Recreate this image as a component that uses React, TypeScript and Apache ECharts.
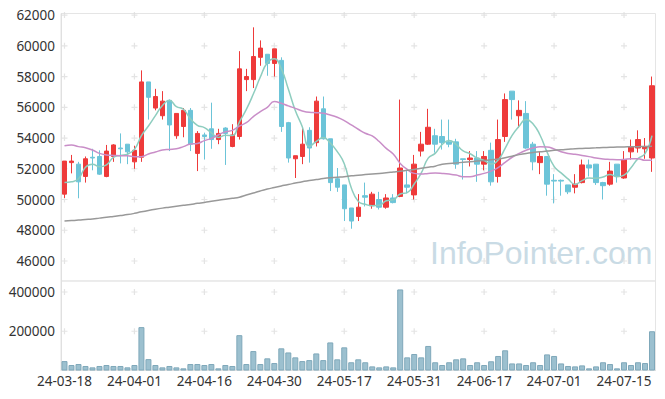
import React, { useEffect, useRef } from "react";
import * as echarts from "echarts";

const dates = [
  "24-03-18","24-03-19","24-03-20","24-03-21","24-03-22","24-03-25","24-03-26","24-03-27","24-03-28","24-03-29",
  "24-04-01","24-04-02","24-04-03","24-04-04","24-04-05","24-04-08","24-04-09","24-04-11","24-04-12","24-04-15",
  "24-04-16","24-04-17","24-04-18","24-04-19","24-04-22","24-04-23","24-04-24","24-04-25","24-04-26","24-04-29",
  "24-04-30","24-05-02","24-05-03","24-05-07","24-05-08","24-05-09","24-05-10","24-05-13","24-05-14","24-05-16",
  "24-05-17","24-05-20","24-05-21","24-05-22","24-05-23","24-05-24","24-05-27","24-05-28","24-05-29","24-05-30",
  "24-05-31","24-06-03","24-06-04","24-06-05","24-06-07","24-06-10","24-06-11","24-06-12","24-06-13","24-06-14",
  "24-06-17","24-06-18","24-06-19","24-06-20","24-06-21","24-06-24","24-06-25","24-06-26","24-06-27","24-06-28",
  "24-07-01","24-07-02","24-07-03","24-07-04","24-07-05","24-07-08","24-07-09","24-07-10","24-07-11","24-07-12",
  "24-07-15","24-07-16","24-07-17","24-07-18","24-07-19",
];

const opens = [
  50350,52400,52300,51500,52750,52800,51500,52800,53350,53600,
  52450,52750,57650,55950,55450,56450,54150,54750,55800,53000,
  54200,54600,53900,54650,53450,54100,57800,57800,59250,59450,
  58850,59050,55000,52650,52800,54500,53700,55900,53950,51350,
  50950,49450,48900,50250,49600,50000,49500,50100,50200,50950,
  50300,53150,53600,54150,54100,53750,53750,52650,52600,52700,
  52300,53200,51500,54100,57050,55450,55600,53600,52400,52800,
  51250,51250,50950,50800,51100,52250,52300,51100,51000,52300,
  51400,53100,53350,53300,52700,
];
const closes = [
  52500,52500,51150,52650,52700,51650,53150,53550,53300,53100,
  53200,57650,56650,56700,56400,54850,55600,55800,53600,54300,
  54100,53900,54300,54300,54200,58500,58000,59300,59850,58850,
  59800,54750,52700,52850,53600,53350,56400,53950,51100,50800,
  49400,48600,49500,50150,50350,49500,50100,49800,52050,50800,
  52300,53600,54700,53600,53700,53600,52300,52600,52700,52300,
  52800,51150,53900,56500,56500,55800,53350,52450,52800,51000,
  51200,51200,50500,51000,52250,52050,51100,50900,51850,51500,
  52600,53450,53900,53450,57400,
];
const lows = [
  50100,51700,50080,51100,51900,51600,51450,52450,52350,52300,
  52000,52450,55200,55800,55200,53150,53950,54050,53150,51850,
  52600,53300,53600,52250,53400,53900,57050,57250,58700,58050,
  58000,54400,52400,51400,52300,52400,53450,53900,50550,50500,
  48600,48100,48600,49550,49400,49350,49400,49750,50150,50400,
  50000,52800,53550,53050,53250,53400,52000,51300,52150,51150,
  51900,50900,51100,53750,55200,54650,53300,51900,51650,50250,
  49750,50250,50350,50400,51050,51500,50950,50000,50900,51100,
  51350,52600,53050,52650,51800,
];
const highs = [
  52500,52900,52450,52800,53300,53200,53550,53600,54300,53600,
  53500,58400,57650,57200,57050,56500,55600,55950,55950,54450,
  54350,56300,54600,54700,54900,59650,58500,61200,60350,59450,
  59800,59250,55050,52850,54700,54700,56700,56700,53950,52050,
  50950,49450,50350,51100,50500,50500,50350,50350,56500,51850,
  52900,54400,55900,54600,55200,55200,53950,52650,53150,53150,
  53150,53700,55200,56900,57050,56450,56400,53750,53150,52800,
  51650,51300,50950,51650,52600,52600,52300,51150,52450,52300,
  53150,53900,54500,54000,58000,
];
const volumes = [
  48000,28000,33000,23000,16000,23000,28000,23000,23000,16000,
  28000,221000,58000,28000,16000,23000,16000,11000,33000,33000,
  28000,33000,11000,28000,23000,180000,33000,99000,33000,62000,
  38000,113000,92000,67000,48000,53000,87000,53000,143000,57000,
  118000,42000,57000,42000,21000,16000,21000,16000,413000,67000,
  84000,67000,125000,42000,28000,42000,57000,62000,28000,42000,
  28000,47000,74000,103000,36000,36000,28000,42000,28000,82000,
  74000,36000,23000,21000,26000,11000,21000,42000,33000,11000,
  42000,28000,42000,38000,200000,
];
const ma5 = [
  51100,51150,51350,52100,52300,52130,52260,52740,52870,52950,
  53260,54160,54780,55460,56120,56450,56040,55870,55250,54830,
  54680,54340,54040,54180,54160,55040,55860,56860,57970,58900,
  59160,58510,57190,55790,54740,53450,53780,54030,53680,53120,
  52330,50770,49880,49690,49600,49620,49920,49980,50360,50450,
  51010,51710,52690,53000,53580,53840,53580,53160,52980,52700,
  52540,52310,52570,53330,54170,54770,55210,54920,54180,53080,
  52160,51730,51340,50980,51230,51400,51380,51460,51630,51480,
  51590,52060,52660,52980,54160,
];
const ma20 = [
  53500,53545,53440,53370,53220,53000,52900,52870,52850,52850,
  52790,52790,52960,53090,53220,53260,53300,53440,53610,53650,
  53830,53980,54200,54400,54500,54780,54995,55390,55710,56000,
  56370,56260,56090,55930,55760,55670,55650,55610,55500,55350,
  55130,54850,54570,54310,54140,53770,53330,52960,52350,51960,
  51700,51660,51700,51720,51700,51660,51590,51480,51480,51590,
  51700,51850,52080,52420,52750,53000,53200,53350,53430,53420,
  53290,53110,53000,52940,52870,52790,52700,52640,52610,52590,
  52610,52660,52660,52550,52550,
];
const ma120 = [
  48600,48630,48660,48700,48740,48790,48840,48900,48960,49020,
  49100,49200,49290,49370,49440,49500,49560,49620,49680,49750,
  49810,49880,49950,50020,50080,50150,50290,50420,50560,50680,
  50780,50880,50980,51070,51160,51240,51300,51360,51410,51450,
  51480,51540,51580,51620,51660,51700,51740,51790,51840,51900,
  51960,52030,52100,52170,52300,52340,52380,52420,52460,52500,
  52540,52580,52640,52720,52820,52920,53000,53060,53110,53150,
  53200,53240,53270,53300,53320,53340,53360,53380,53395,53410,
  53420,53430,53440,53450,53460,
];

const priceTicks = [46000, 48000, 50000, 52000, 54000, 56000, 58000, 60000, 62000];
const volumeTicks = [200000, 400000];

const UP = "#ee3a3a";
const DOWN = "#6cc4d8";
const PLUS = "path://M2,0H3V2H5V3H3V5H2V3H0V2H2Z";

export default function App() {
  const ref = useRef<HTMLDivElement>(null);
  useEffect(() => {
    const chart = echarts.init(ref.current!, null, { renderer: "svg" });
    const candles = dates.map((_, i) => [opens[i], closes[i], lows[i], highs[i]]);
    const markCats = dates.filter((_, i) => i % 10 === 0);
    const upperMarks: any[] = [];
    markCats.forEach((c) => priceTicks.forEach((v) => upperMarks.push([c, v])));
    const lowerMarks: any[] = [];
    markCats.forEach((c) => volumeTicks.forEach((v) => lowerMarks.push([c, v])));
    const plain = (v: number) => String(v);

    chart.setOption({
      animation: false,
      backgroundColor: "#ffffff",
      textStyle: { fontFamily: "'Noto Sans', sans-serif" },
      grid: [
        { left: 61, right: 9.5, top: 13.5, height: 267.5, show: true, borderColor: "#e5e5e5", borderWidth: 1 },
        { left: 61, right: 9.5, top: 281, height: 89.5, show: true, borderColor: "#e5e5e5", borderWidth: 1 },
      ],
      xAxis: [
        {
          type: "category", gridIndex: 0, data: dates, boundaryGap: true,
          axisLine: { show: false }, axisTick: { show: false }, axisLabel: { show: false }, splitLine: { show: false },
        },
        {
          type: "category", gridIndex: 1, data: dates, boundaryGap: true,
          axisLine: { show: true, lineStyle: { color: "#e0e0e0" } }, axisTick: { show: false },
          axisLabel: { interval: 9, color: "#333", fontSize: 13.5, margin: 3 }, splitLine: { show: false },
        },
      ],
      yAxis: [
        {
          type: "value", gridIndex: 0, min: 44700, max: 62100, splitNumber: 8, scale: true,
          axisLine: { show: true, lineStyle: { color: "#e0e0e0" } }, axisTick: { show: false }, splitLine: { show: false },
          axisLabel: { color: "#333", fontSize: 13.5, margin: 6, showMinLabel: false, showMaxLabel: false, formatter: plain },
        },
        {
          type: "value", gridIndex: 1, min: 0, max: 456000, interval: 200000,
          axisLine: { show: true, lineStyle: { color: "#e0e0e0" } }, axisTick: { show: false }, splitLine: { show: false },
          axisLabel: { color: "#333", fontSize: 13.5, margin: 6, showMinLabel: false, showMaxLabel: false, formatter: plain },
        },
      ],
      graphic: [
        {
          type: "text", left: 430, top: 237, z: -10, silent: true,
          style: { text: "InfoPointer.com", fontSize: 32, fill: "#c9dbe5", fontFamily: "'Liberation Sans', Arial, sans-serif" },
        },
      ],
      series: [
        {
          type: "scatter", xAxisIndex: 0, yAxisIndex: 0, data: upperMarks, symbol: PLUS, symbolSize: 6,
          itemStyle: { color: "#dddddd" }, silent: true, z: 0,
        },
        {
          type: "scatter", xAxisIndex: 1, yAxisIndex: 1, data: lowerMarks, symbol: PLUS, symbolSize: 6,
          itemStyle: { color: "#dddddd" }, silent: true, z: 0,
        },
        {
          type: "candlestick", xAxisIndex: 0, yAxisIndex: 0, data: candles, barWidth: 5,
          itemStyle: { color: UP, color0: DOWN, borderColor: UP, borderColor0: DOWN, borderWidth: 1 },
        },
        {
          type: "line", xAxisIndex: 0, yAxisIndex: 0, data: ma5, symbol: "none", smooth: true,
          lineStyle: { color: "#8ecdbf", width: 1.5 },
        },
        {
          type: "line", xAxisIndex: 0, yAxisIndex: 0, data: ma20, symbol: "none", smooth: true,
          lineStyle: { color: "#c98ec8", width: 1.5 },
        },
        {
          type: "line", xAxisIndex: 0, yAxisIndex: 0, data: ma120, symbol: "none", smooth: true,
          lineStyle: { color: "#999999", width: 1.5 },
        },
        {
          type: "bar", xAxisIndex: 1, yAxisIndex: 1, data: volumes, barWidth: 6,
          itemStyle: { color: "#9cc0cf", borderColor: "#7fa8ba", borderWidth: 1 },
        },
      ],
    });
    return () => chart.dispose();
  }, []);
  return <div ref={ref} style={{ position: "fixed", left: 0, top: 0, width: 665, height: 399 }} />;
}
